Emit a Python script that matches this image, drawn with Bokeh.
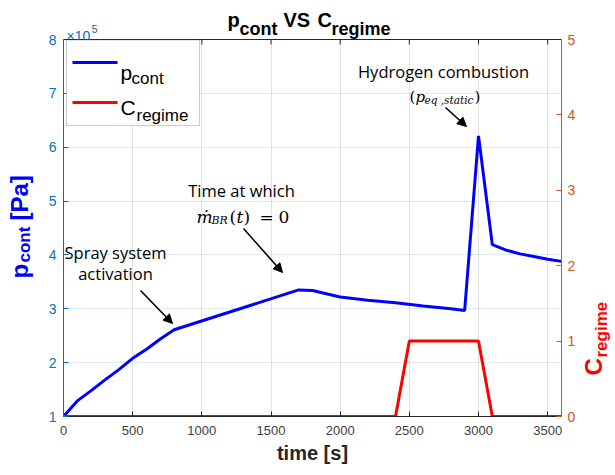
import math
from bokeh.plotting import figure
from bokeh.layouts import row
from bokeh.models import (Range1d, LinearAxis, FixedTicker, Label, Arrow, NormalHead,
                          BoxAnnotation, Span, CustomJSTickFormatter)
from bokeh.embed import file_html
from bokeh.resources import INLINE

# ---------------- data ----------------
time_p = [0, 100, 200, 300, 400, 500, 600, 700, 800, 1700, 1800, 2000, 2200, 2400,
          2600, 2800, 2900, 3000, 3100, 3200, 3300, 3400, 3500, 3600]
p_cont_1e5 = [1.00, 1.29, 1.48, 1.68, 1.87, 2.08, 2.25, 2.44, 2.61, 3.35, 3.34, 3.22,
              3.16, 3.11, 3.05, 3.00, 2.97, 6.21, 4.19, 4.09, 4.02, 3.97, 3.92, 3.88]
time_c = [0, 2400, 2500, 3000, 3100, 3600]
c_regime = [0, 0, 1, 1, 0, 0]

x_ticks = [0, 500, 1000, 1500, 2000, 2500, 3000, 3500]
left_ticks = [1, 2, 3, 4, 5, 6, 7, 8]
right_ticks = [0, 1, 2, 3, 4, 5]

# ---------------- layout ----------------
W, H = 615, 475
LEFT_W, RIGHT_W = 40, 35
FX0, FX1 = 63, 561          # x extent of the axes box (page px)
AY_TOP, AY_BOT = 39, 416    # y extent of the axes box (page px)
XMIN, XMAX = 0, 3600
YMIN, YMAX = 1, 8
CMIN, CMAX = 0, 5
ROT_SHIFT = 9               # rotated labels: anchor sits left of the baseline

LEFT_C = "#0072BD"
RIGHT_C = "#D95319"
AX_C = "#262626"
SANS = "Liberation Sans"
ANN = "Open Sans"
SERIF = "DejaVu Serif"


def dx(px):
    return XMIN + (px - FX0) / (FX1 - FX0) * (XMAX - XMIN)


def dy(py):
    return YMIN + (AY_BOT - py) / (AY_BOT - AY_TOP) * (YMAX - YMIN)


Y_END = dy(0)   # frame reaches the top of the page
C_END = CMIN + (Y_END - YMIN) / (YMAX - YMIN) * (CMAX - CMIN)

p = figure(width=W - LEFT_W - RIGHT_W, height=H, output_backend="svg",
           toolbar_location=None,
           x_range=Range1d(XMIN, XMAX), y_range=Range1d(YMIN, Y_END),
           min_border_left=FX0 - LEFT_W, min_border_right=W - RIGHT_W - FX1,
           min_border_top=0, min_border_bottom=H - AY_BOT)
p.outline_line_color = None
p.background_fill_color = "white"
p.border_fill_color = "white"
p.extra_y_ranges = {"c": Range1d(CMIN, C_END)}

# bottom axis
xa = p.xaxis[0]
xa.ticker = FixedTicker(ticks=x_ticks)
xa.axis_line_color = AX_C
xa.major_tick_line_color = AX_C
xa.major_tick_in = 5
xa.major_tick_out = 0
xa.minor_tick_line_color = None
xa.major_label_text_font = SANS
xa.major_label_text_font_size = "13px"
xa.major_label_text_color = "#404040"
xa.major_label_standoff = 9
xa.axis_label = "time [s]"
xa.axis_label_text_font = SANS
xa.axis_label_text_font_size = "20px"
xa.axis_label_text_font_style = "bold"
xa.axis_label_text_color = AX_C
xa.axis_label_standoff = 4

# left axis
ya = p.yaxis[0]
ya.bounds = (YMIN, YMAX)
ya.ticker = FixedTicker(ticks=left_ticks)
ya.axis_line_color = LEFT_C
ya.major_tick_line_color = LEFT_C
ya.major_tick_in = 5
ya.major_tick_out = 0
ya.minor_tick_line_color = None
ya.major_label_text_font = SANS
ya.major_label_text_font_size = "14px"
ya.major_label_text_color = LEFT_C
ya.major_label_standoff = 7
ya.formatter = CustomJSTickFormatter(code="return tick.toFixed(0);")

# right axis
ra = LinearAxis(y_range_name="c", bounds=(CMIN, CMAX),
                ticker=FixedTicker(ticks=right_ticks),
                axis_line_color=RIGHT_C, major_tick_line_color=RIGHT_C,
                major_tick_in=5, major_tick_out=0, minor_tick_line_color=None,
                major_label_text_font=SANS, major_label_text_font_size="14px",
                major_label_text_color=RIGHT_C, major_label_standoff=6)
p.add_layout(ra, "right")

# grids
p.xgrid.ticker = FixedTicker(ticks=x_ticks)
p.xgrid.grid_line_color = AX_C
p.xgrid.grid_line_alpha = 0.13
p.ygrid.ticker = FixedTicker(ticks=left_ticks)
p.ygrid.grid_line_color = LEFT_C
p.ygrid.grid_line_alpha = 0.13

# white area above the axes box (hides grid lines there)
p.add_layout(BoxAnnotation(bottom=YMAX, fill_color="white", fill_alpha=1.0,
                           line_color=None, level="underlay"))
# top edge of the axes box with its inward ticks
p.add_layout(Span(location=YMAX, dimension="width", line_color=AX_C, line_width=1))
p.segment(x0=x_ticks, x1=x_ticks, y0=[YMAX] * len(x_ticks),
          y1=[dy(AY_TOP + 5)] * len(x_ticks), line_color=AX_C, line_width=1)

# data lines
p.line(time_p, p_cont_1e5, line_color="#0000FF", line_width=3)
p.line(time_c, c_regime, line_color="#FF0000", line_width=3, y_range_name="c")


def lab(px, py, text, size, color="black", style="normal", font=SANS,
        align="left", baseline="alphabetic", angle=0.0):
    p.add_layout(Label(x=dx(px), y=dy(py), text=text, text_font_size=f"{size}px",
                       text_color=color, text_font_style=style, text_font=font,
                       text_align=align, text_baseline=baseline, angle=angle))


# ---- side text panels, data coordinates = page pixels ----
def make_aux(w, ox):
    f = figure(width=w, height=H, output_backend="svg", toolbar_location=None,
               x_range=Range1d(ox, ox + w), y_range=Range1d(AY_BOT, 0),
               min_border_left=0, min_border_right=0, min_border_top=0,
               min_border_bottom=H - AY_BOT,
               x_axis_location=None, y_axis_location=None)
    f.outline_line_color = None
    f.grid.visible = False
    f.background_fill_color = "white"
    f.border_fill_color = "white"

    def vlab(px_base, py, text, size, color):
        f.add_layout(Label(x=px_base - ROT_SHIFT, y=py, text=text,
                           text_font_size=f"{size}px", text_color=color,
                           text_font_style="bold", text_font=SANS,
                           text_align="left", text_baseline="alphabetic",
                           angle=math.pi / 2))
    return f, vlab


left, llab = make_aux(LEFT_W, 0)
llab(28, 278, "p", 24, "#0000FF")
llab(33, 262, "cont", 17, "#0000FF")
llab(28, 220, "[Pa]", 24, "#0000FF")

right, rlab = make_aux(RIGHT_W, W - RIGHT_W)
rlab(602, 375, "C", 24, "#FF0000")
rlab(610, 357, "regime", 17, "#FF0000")

# title  p_cont VS C_regime
lab(227, 19, "p", 20, style="bold")
lab(239, 28, "cont", 18, style="bold")
lab(283, 19, "VS", 20, style="bold")
lab(317, 19, "C", 20, style="bold")
lab(331, 28, "regime", 18, style="bold")
# exponent marker
lab(66, 35, "\u00d710", 14, color=LEFT_C)
lab(91, 28, "5", 11, color=LEFT_C)

# legend
p.add_layout(BoxAnnotation(left=dx(66), right=dx(199), top=dy(39.5), bottom=dy(125),
                           fill_color="white", fill_alpha=1.0,
                           line_color="#595959", line_width=1, level="annotation"))
p.add_layout(BoxAnnotation(left=dx(72), right=dx(117), top=dy(60.5), bottom=dy(63.5),
                           fill_color="#0000FF", fill_alpha=1.0, line_color=None))
p.add_layout(BoxAnnotation(left=dx(72), right=dx(117), top=dy(100.5), bottom=dy(103.5),
                           fill_color="#FF0000", fill_alpha=1.0, line_color=None))
lab(120, 72, "p", 21)
lab(131, 78, "cont", 17)
lab(120, 107, "C", 21)
lab(136, 115, "regime", 17)

# annotations
lab(443, 71, "Hydrogen combustion", 16.5, font=ANN, align="center", baseline="middle")
lab(409, 96, "(", 15, font=SERIF)
lab(415, 96, "p", 15, font=SERIF, style="italic")
lab(424, 99, "eq ,static", 10.5, font=SERIF, style="italic")
lab(474, 96, ")", 15, font=SERIF)

lab(241, 190, "Time at which", 16.5, font=ANN, align="center", baseline="middle")
lab(196, 216, "\u1e41", 17, font=SERIF, style="italic")
lab(211, 220, "BR", 11, font=SERIF, style="italic")
lab(229, 216, "(", 17, font=SERIF)
lab(236, 216, "t", 17, font=SERIF, style="italic")
lab(243, 216, ")", 17, font=SERIF)
lab(259, 216, "=", 17, font=SERIF)
lab(278, 216, "0", 17, font=SERIF)

lab(115, 252, "Spray system", 16.5, font=ANN, align="center", baseline="middle")
lab(115, 273, "activation", 16.5, font=ANN, align="center", baseline="middle")


def arrow(x0, y0, x1, y1):
    p.add_layout(Arrow(end=NormalHead(size=9, fill_color="black", line_color="black"),
                       x_start=dx(x0), y_start=dy(y0), x_end=dx(x1), y_end=dy(y1),
                       line_color="black", line_width=1.6))


arrow(445, 107, 466, 126)
arrow(243, 228, 282, 272)
arrow(140, 290, 172, 323)

layout = row(left, p, right, spacing=0)
open("out.html", "w").write(file_html(layout, INLINE))
